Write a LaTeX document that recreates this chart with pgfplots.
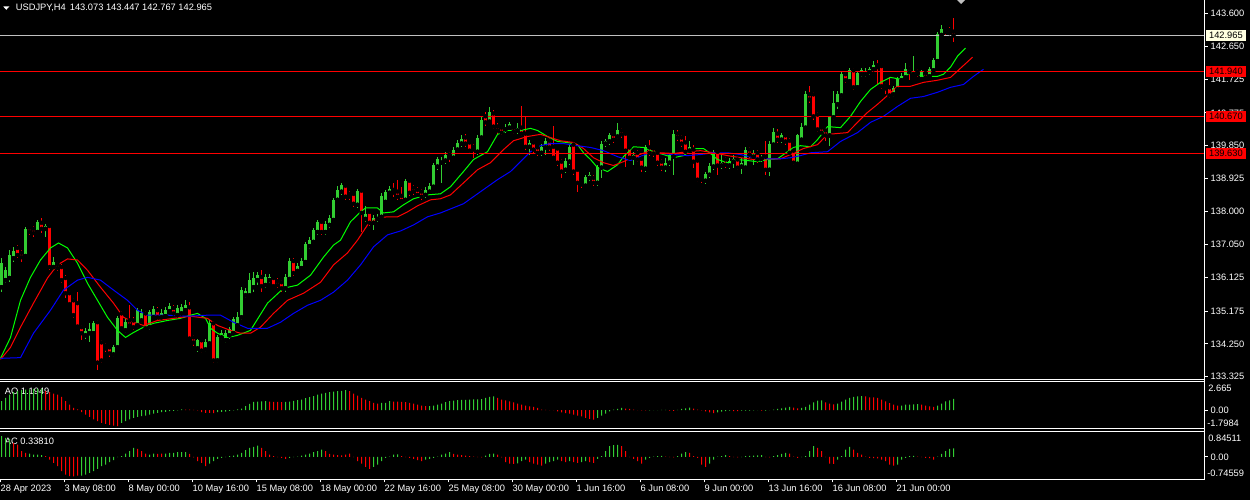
\documentclass[border=0pt]{standalone}
\usepackage{pgfplots}
\pgfplotsset{compat=1.18}
\usepackage{pgfplotstable}
\usepackage{fontspec}
\setmainfont{Liberation Sans}
\definecolor{cgreen}{RGB}{50,205,50}
\definecolor{cred}{RGB}{255,0,0}
\definecolor{clime}{RGB}{0,255,0}
\definecolor{cblue}{RGB}{0,0,255}
\definecolor{cbid}{RGB}{192,192,192}
\definecolor{ccream}{RGB}{255,255,224}
\newcommand\mt{\fontsize{9.3bp}{11bp}\selectfont}
\tikzset{lab/.style={text=white, font=\mt, inner sep=0pt}}
\pgfplotsset{
  isup/.style={restrict expr to domain={\thisrow{#1}}{0.5:1.5}},
  isdown/.style={restrict expr to domain={\thisrow{#1}}{-0.5:0.5}},
  mtaxis/.style={scale only axis, width=1204.5bp, xmin=-0.375, xmax=300.75,
    axis line style={draw=none}, clip=false, tick align=outside, major tick length=3bp,
    ytick pos=right, yticklabel pos=right, tick style={white, line width=1bp},
    yticklabel style={text=white, font=\mt, anchor=west, inner sep=0pt, xshift=3bp}},
  hist/.style={ybar, bar width=1bp, draw=none, fill=#1, bar shift=0pt},
}
\pgfplotstableread{
i o h l c u
0 135.85 136.67 135.71 136.53 1
1 136.05 136.42 135.96 136.33 1
2 136.11 136.90 135.99 136.76 1
3 136.67 136.99 136.56 136.87 1
4 136.96 137.04 136.67 136.76 0
5 136.82 136.90 136.56 136.70 0
6 136.73 137.55 136.67 137.50 1
7 137.53 137.58 137.33 137.41 0
8 137.50 137.58 137.27 137.38 0
9 137.41 137.75 137.36 137.70 1
10 137.67 137.81 137.38 137.50 0
11 137.50 137.64 137.27 137.58 1
12 137.58 137.61 136.33 136.42 0
13 136.42 136.70 136.33 136.56 1
14 136.50 136.56 136.31 136.39 0
15 136.42 136.50 135.96 136.05 0
16 136.11 136.19 135.54 135.68 0
17 135.68 135.74 135.31 135.37 0
18 135.48 135.54 134.97 135.06 0
19 135.40 135.71 134.69 134.74 0
20 134.72 134.77 134.35 134.55 0
21 134.49 134.69 134.40 134.60 1
22 134.55 134.83 134.29 134.66 1
23 134.55 134.89 134.49 134.83 1
24 134.86 134.91 133.50 133.72 0
25 134.29 134.35 133.72 133.78 0
26 134.20 134.26 134.03 134.12 0
27 134.15 134.20 133.89 133.98 0
28 133.95 134.23 133.89 134.15 1
29 134.15 135.03 134.09 134.97 1
30 135.11 135.17 134.63 134.69 0
31 134.63 134.97 134.55 134.86 1
32 134.91 135.34 134.72 134.77 0
33 134.91 135.00 134.63 134.72 0
34 134.77 135.26 134.69 135.20 1
35 134.91 135.23 134.83 135.11 1
36 135.11 135.17 134.63 134.69 0
37 134.72 135.20 134.63 135.14 1
38 135.00 135.31 134.94 135.23 1
39 135.20 135.28 134.91 135.00 0
40 135.00 135.23 134.91 135.11 1
41 135.03 135.28 134.97 135.20 1
42 135.17 135.40 135.11 135.31 1
43 135.26 135.34 135.03 135.11 0
44 135.06 135.34 135.00 135.26 1
45 135.11 135.37 135.06 135.28 1
46 135.20 135.48 135.14 135.34 1
47 135.28 135.43 134.35 134.40 0
48 134.43 134.49 134.20 134.29 0
49 134.12 134.40 134.03 134.35 1
50 134.35 134.40 133.98 134.06 0
51 134.09 134.40 134.01 134.29 1
52 134.26 134.91 134.20 134.83 1
53 134.83 134.89 133.72 133.78 0
54 133.78 134.49 133.72 134.43 1
55 134.43 134.63 134.35 134.57 1
56 134.35 134.63 134.26 134.57 1
57 134.49 134.72 134.40 134.66 1
58 134.55 135.00 134.49 134.94 1
59 134.77 135.14 134.72 135.00 1
60 135.00 135.85 134.91 135.77 1
61 135.62 135.82 135.54 135.74 1
62 135.62 136.25 135.57 136.05 1
63 135.85 136.28 135.71 136.11 1
64 136.05 136.28 135.91 136.19 1
65 136.14 136.33 135.71 135.88 0
66 135.91 136.22 135.82 136.14 1
67 136.05 136.22 135.96 136.14 1
68 136.11 136.16 135.82 135.88 0
69 136.02 136.11 135.82 135.91 0
70 135.99 136.05 135.71 135.82 0
71 135.82 136.22 135.71 136.14 1
72 136.08 136.67 136.02 136.59 1
73 136.59 136.67 136.16 136.25 0
74 136.31 136.53 136.25 136.45 1
75 136.39 136.67 136.33 136.59 1
76 136.56 137.13 136.50 137.07 1
77 137.01 137.27 136.93 137.18 1
78 137.13 137.53 137.07 137.47 1
79 137.41 137.75 137.33 137.70 1
80 137.70 137.75 137.33 137.41 0
81 137.41 137.72 137.33 137.64 1
82 137.61 137.89 137.53 137.81 1
83 137.75 138.38 137.70 138.32 1
84 138.32 138.72 138.26 138.60 1
85 138.55 138.80 138.46 138.75 1
86 138.72 138.77 138.32 138.41 0
87 138.49 138.58 138.32 138.41 0
88 138.49 138.55 138.12 138.21 0
89 138.18 138.63 138.09 138.58 1
90 138.58 138.63 137.41 137.95 0
91 137.78 138.15 137.70 137.92 1
92 137.98 138.04 137.58 137.67 0
93 137.67 137.89 137.47 137.81 1
94 137.78 137.92 137.70 137.84 1
95 137.84 138.52 137.78 138.43 1
96 138.26 138.60 138.21 138.55 1
97 138.52 138.72 138.46 138.63 1
98 138.60 138.80 138.41 138.52 0
99 138.55 138.89 138.32 138.41 0
100 138.43 138.69 138.24 138.29 0
101 138.32 138.92 138.26 138.86 1
102 138.86 138.92 138.43 138.52 0
103 138.66 138.75 138.46 138.55 0
104 138.60 138.69 138.38 138.46 0
105 138.55 138.63 138.32 138.41 0
106 138.46 138.69 138.38 138.60 1
107 138.55 138.80 138.49 138.72 1
108 138.69 139.37 138.63 139.31 1
109 139.26 139.54 139.17 139.46 1
110 139.37 139.54 138.80 139.43 1
111 139.43 139.68 139.34 139.60 1
112 139.60 139.68 139.40 139.51 0
113 139.51 139.82 139.46 139.74 1
114 139.74 140.02 139.68 139.94 1
115 139.91 140.14 139.82 140.05 1
116 140.08 140.17 139.82 139.91 0
117 139.94 139.99 139.65 139.71 0
118 139.82 139.91 139.51 139.74 0
119 139.68 140.14 139.60 140.08 1
120 140.08 140.65 140.02 140.59 1
121 140.68 140.79 140.42 140.51 0
122 140.53 140.93 140.45 140.79 1
123 140.76 140.85 140.31 140.39 0
124 140.39 140.48 140.19 140.28 0
125 140.36 140.42 140.14 140.22 0
126 140.31 140.45 140.22 140.36 1
127 140.36 140.53 140.28 140.45 1
128 140.36 140.42 140.17 140.25 0
129 140.28 140.48 140.19 140.36 1
130 140.36 140.96 140.11 140.19 0
131 140.19 140.68 139.74 139.82 0
132 139.82 140.02 139.60 139.94 1
133 139.94 139.99 139.65 139.74 0
134 139.80 139.85 139.57 139.65 0
135 139.65 139.91 139.57 139.82 1
136 139.80 140.08 139.60 139.99 1
137 139.99 140.08 139.71 139.80 0
138 139.82 140.42 139.46 139.51 0
139 139.77 139.82 139.29 139.37 0
140 139.40 139.46 138.95 139.12 0
141 139.17 139.49 139.09 139.43 1
142 139.40 139.88 139.31 139.82 1
143 139.88 139.94 139.03 139.12 0
144 139.17 139.23 138.55 138.80 0
145 138.83 138.89 138.66 138.75 0
146 138.72 139.03 138.66 138.97 1
147 138.94 139.12 138.86 139.03 1
148 138.94 139.03 138.72 138.80 0
149 138.80 139.31 138.72 139.26 1
150 139.23 139.97 138.94 139.91 1
151 139.91 140.05 139.82 139.97 1
152 139.97 140.22 139.88 140.14 1
153 140.17 140.22 139.94 140.02 0
154 140.11 140.48 140.05 140.28 1
155 140.28 140.36 140.08 140.17 0
156 140.19 140.25 139.26 139.71 0
157 139.80 139.85 139.46 139.51 0
158 139.51 139.68 139.31 139.60 1
159 139.65 139.74 139.40 139.46 0
160 139.48 139.54 139.12 139.23 0
161 139.20 139.88 139.12 139.80 1
162 139.80 140.02 139.57 139.65 0
163 139.77 139.82 139.54 139.63 0
164 139.65 139.71 139.29 139.37 0
165 139.40 139.46 139.14 139.23 0
166 139.23 139.51 139.12 139.37 1
167 139.37 139.65 139.29 139.60 1
168 139.54 140.28 139.03 140.19 1
169 140.19 140.28 139.99 140.08 0
170 140.08 140.14 139.82 139.91 0
171 139.94 140.11 139.63 139.68 0
172 139.71 139.97 139.63 139.80 1
173 139.74 139.88 139.23 139.40 0
174 139.43 139.48 138.83 138.89 0
175 138.97 139.03 138.80 138.89 0
176 138.86 139.12 138.77 139.06 1
177 139.03 139.37 138.94 139.29 1
178 139.26 139.74 139.17 139.68 1
179 139.68 139.74 139.03 139.29 0
180 139.29 139.60 139.20 139.37 1
181 139.46 139.54 139.23 139.31 0
182 139.29 139.51 139.20 139.43 1
183 139.40 139.60 139.23 139.48 1
184 139.46 139.54 139.17 139.23 0
185 139.26 139.51 139.06 139.37 1
186 139.23 139.80 139.17 139.74 1
187 139.74 139.82 139.51 139.60 0
188 139.54 139.74 139.31 139.65 1
189 139.65 139.74 139.37 139.46 0
190 139.48 139.60 139.40 139.51 1
191 139.54 139.97 139.03 139.17 0
192 139.17 139.97 139.00 139.91 1
193 139.88 140.34 139.82 140.25 1
194 140.19 140.31 139.94 140.02 0
195 140.02 140.22 139.94 140.14 1
196 140.14 140.19 139.88 139.97 0
197 139.99 140.08 139.60 139.65 0
198 139.71 139.77 139.31 139.37 0
199 139.34 140.19 139.29 140.14 1
200 140.02 140.48 139.97 140.39 1
201 140.36 141.39 140.31 141.30 1
202 141.30 141.53 141.07 141.16 0
203 141.30 141.36 140.59 140.68 0
204 140.73 140.79 140.25 140.31 0
205 140.36 140.42 140.14 140.22 0
206 140.28 140.34 139.99 140.14 0
207 140.14 140.70 139.85 140.65 1
208 140.65 141.41 140.59 141.05 1
209 141.02 141.39 140.90 141.30 1
210 141.27 141.93 141.21 141.87 1
211 141.87 141.95 141.61 141.70 0
212 141.67 142.04 141.61 141.98 1
213 141.98 142.04 141.41 141.50 0
214 141.50 141.95 141.44 141.90 1
215 141.87 142.04 141.78 141.98 1
216 141.87 142.04 141.78 141.95 1
217 141.93 142.07 141.84 142.01 1
218 142.01 142.24 141.95 142.12 1
219 142.12 142.27 141.58 142.07 0
220 142.10 142.15 141.44 141.53 0
221 141.56 141.61 141.30 141.47 0
222 141.50 141.78 141.21 141.27 0
223 141.30 141.53 141.24 141.47 1
224 141.44 141.78 141.39 141.73 1
225 141.70 141.90 141.64 141.81 1
226 141.78 142.18 141.73 142.01 1
227 142.04 142.10 141.70 141.93 0
228 141.87 142.38 141.81 141.95 1
229 141.95 142.01 141.78 141.87 0
230 141.73 141.98 141.67 141.93 1
231 141.90 141.95 141.73 141.78 0
232 141.81 142.07 141.75 142.01 1
233 141.98 142.32 141.93 142.27 1
234 142.24 143.06 142.18 143.00 1
235 142.98 143.26 142.92 143.15 1
236 143.15 143.20 142.95 143.06 0
237 143.12 143.20 142.95 143.03 0
238 143.073 143.447 142.767 142.965 0
}\candles
\pgfplotstableread{
i v g
0 1.05 1
1 1.44 1
2 1.84 1
3 2.12 1
4 2.24 1
5 2.36 1
6 2.44 1
7 2.46 1
8 2.52 1
9 2.53 1
10 2.54 1
11 2.24 0
12 2.12 0
13 1.96 0
14 1.84 0
15 1.56 0
16 1.05 0
17 0.65 0
18 0.25 0
19 0.06 0
20 -0.26 0
21 -0.54 0
22 -0.82 0
23 -1.13 0
24 -1.33 0
25 -1.52 0
26 -1.65 0
27 -1.77 0
28 -1.85 0
29 -1.93 0
30 -1.52 1
31 -1.33 1
32 -1.13 1
33 -0.94 1
34 -0.82 1
35 -0.74 1
36 -0.66 1
37 -0.54 1
38 -0.42 1
39 -0.34 1
40 -0.26 1
41 -0.22 1
42 -0.14 1
43 -0.10 1
44 -0.03 1
45 0.06 1
46 0.05 0
47 0.04 0
48 0.01 0
49 -0.03 0
50 -0.26 0
51 -0.34 0
52 -0.35 0
53 -0.36 0
54 -0.26 1
55 -0.22 1
56 -0.18 1
57 -0.10 1
58 -0.03 1
59 0.06 1
60 0.17 1
61 0.45 1
62 0.73 1
63 0.97 1
64 1.01 1
65 1.02 1
66 1.05 1
67 1.01 0
68 0.97 0
69 0.96 0
70 0.93 0
71 0.97 1
72 1.01 1
73 1.09 1
74 1.17 1
75 1.25 1
76 1.40 1
77 1.52 1
78 1.64 1
79 1.84 1
80 1.96 1
81 2.04 1
82 2.12 1
83 2.20 1
84 2.24 1
85 2.28 1
86 2.36 1
87 2.24 0
88 1.96 0
89 1.72 0
90 1.44 0
91 1.25 0
92 1.05 0
93 0.85 0
94 0.77 0
95 0.85 1
96 0.86 1
97 1.05 1
98 1.01 0
99 1.00 0
100 0.97 0
101 0.93 0
102 0.85 0
103 0.77 0
104 0.65 0
105 0.53 0
106 0.45 0
107 0.46 1
108 0.53 1
109 0.65 1
110 0.77 1
111 0.93 1
112 1.05 1
113 1.13 1
114 1.17 1
115 1.21 1
116 1.22 1
117 1.25 1
118 1.26 1
119 1.27 1
120 1.30 1
121 1.43 1
122 1.55 1
123 1.63 1
124 1.43 0
125 1.23 0
126 1.15 0
127 1.03 0
128 0.91 0
129 0.75 0
130 0.63 0
131 0.52 0
132 0.44 0
133 0.36 0
134 0.24 0
135 0.04 0
136 0.01 0
137 -0.01 0
138 -0.02 0
139 -0.16 0
140 -0.28 0
141 -0.36 0
142 -0.44 0
143 -0.56 0
144 -0.67 0
145 -0.75 0
146 -0.95 0
147 -1.07 0
148 -1.15 0
149 -0.95 1
150 -0.67 1
151 -0.44 1
152 -0.16 1
153 0.04 1
154 0.12 1
155 0.24 1
156 0.16 0
157 0.12 0
158 0.04 0
159 -0.01 0
160 -0.04 0
161 -0.05 0
162 -0.04 1
163 -0.02 1
164 -0.01 1
165 0.01 1
166 0.02 1
167 -0.08 0
168 -0.09 0
169 0.01 1
170 0.12 1
171 0.20 1
172 0.28 1
173 0.16 0
174 0.04 0
175 -0.04 0
176 -0.16 0
177 -0.28 0
178 -0.36 0
179 -0.28 1
180 -0.20 1
181 -0.12 1
182 -0.08 1
183 -0.12 0
184 -0.13 0
185 -0.08 1
186 -0.07 1
187 -0.06 1
188 -0.04 1
189 -0.01 1
190 -0.07 0
191 -0.06 1
192 -0.01 1
193 0.04 1
194 0.12 1
195 0.20 1
196 0.28 1
197 0.36 1
198 0.28 0
199 0.20 0
200 0.24 1
201 0.36 1
202 0.63 1
203 0.91 1
204 1.11 1
205 1.15 1
206 0.91 0
207 0.75 0
208 0.67 0
209 0.75 1
210 0.99 1
211 1.23 1
212 1.43 1
213 1.55 1
214 1.63 1
215 1.64 1
216 1.63 0
217 1.51 0
218 1.50 0
219 1.43 0
220 1.23 0
221 1.03 0
222 0.83 0
223 0.63 0
224 0.52 0
225 0.53 1
226 0.63 1
227 0.64 1
228 0.67 1
229 0.71 1
230 0.63 0
231 0.52 0
232 0.44 0
233 0.36 0
234 0.52 1
235 0.75 1
236 1.03 1
237 1.15 1
238 1.31 1
}\aotab
\pgfplotstableread{
i v g
0 0.83 1
1 0.76 1
2 0.72 1
3 0.56 0
4 0.49 0
5 0.23 0
6 0.16 0
7 0.13 1
8 0.09 1
9 0.09 1
10 0.07 1
11 0.03 0
12 -0.11 0
13 -0.24 0
14 -0.37 0
15 -0.57 0
16 -0.71 0
17 -0.77 0
18 -0.78 0
19 -0.75 0
20 -0.75 1
21 -0.71 1
22 -0.64 1
23 -0.57 1
24 -0.48 1
25 -0.37 1
26 -0.31 1
27 -0.21 1
28 -0.13 1
29 -0.01 1
30 0.03 1
31 0.13 1
32 0.23 1
33 0.36 1
34 0.32 0
35 0.23 0
36 0.13 0
37 0.09 1
38 0.13 1
39 0.12 0
40 0.13 0
41 0.13 1
42 0.16 1
43 0.16 1
44 0.19 1
45 0.19 1
46 0.19 1
47 0.12 0
48 -0.02 0
49 -0.17 0
50 -0.24 0
51 -0.37 0
52 -0.27 1
53 -0.17 1
54 -0.08 1
55 -0.04 1
56 -0.01 1
57 0.03 1
58 0.05 1
59 0.09 1
60 0.16 1
61 0.27 1
62 0.36 1
63 0.40 1
64 0.45 1
65 0.36 0
66 0.23 0
67 0.09 0
68 0.03 0
69 -0.01 0
70 -0.04 0
71 -0.08 0
72 -0.04 1
73 -0.01 1
74 0.01 1
75 0.05 1
76 0.09 1
77 0.13 1
78 0.19 1
79 0.23 1
80 0.29 1
81 0.23 0
82 0.12 0
83 0.09 0
84 0.07 0
85 0.06 0
86 0.09 0
87 0.13 0
88 -0.01 0
89 -0.17 0
90 -0.27 0
91 -0.40 0
92 -0.48 0
93 -0.40 1
94 -0.31 1
95 -0.17 1
96 -0.04 1
97 0.01 1
98 0.09 1
99 0.10 1
100 0.03 0
101 -0.01 0
102 -0.04 0
103 -0.08 0
104 -0.13 0
105 -0.17 0
106 -0.11 1
107 -0.08 1
108 -0.04 1
109 0.01 1
110 0.09 1
111 0.13 1
112 0.19 1
113 0.12 0
114 0.09 0
115 0.07 0
116 0.05 0
117 0.03 0
118 0.01 0
119 -0.01 0
120 -0.02 0
121 0.05 1
122 0.12 1
123 0.13 1
124 0.09 0
125 -0.02 0
126 -0.21 0
127 -0.27 0
128 -0.28 0
129 -0.26 1
130 -0.17 1
131 -0.11 1
132 -0.21 0
133 -0.27 0
134 -0.31 0
135 -0.35 0
136 -0.27 1
137 -0.21 1
138 -0.17 1
139 -0.11 1
140 -0.17 0
141 -0.21 0
142 -0.17 1
143 -0.21 0
144 -0.24 0
145 -0.21 1
146 -0.17 1
147 -0.21 0
148 -0.24 0
149 -0.08 1
150 0.03 1
151 0.23 1
152 0.43 1
153 0.47 1
154 0.48 1
155 0.43 0
156 0.23 0
157 -0.01 0
158 -0.08 0
159 -0.17 0
160 -0.27 0
161 -0.11 1
162 -0.04 1
163 0.01 1
164 0.03 1
165 0.04 1
166 0.01 0
167 -0.01 0
168 -0.02 0
169 0.03 1
170 0.13 1
171 0.19 1
172 0.16 0
173 0.03 0
174 -0.04 0
175 -0.31 0
176 -0.40 0
177 -0.27 1
178 -0.11 1
179 0.01 1
180 0.03 1
181 0.07 1
182 0.03 0
183 -0.01 0
184 -0.02 0
185 -0.01 1
186 0.03 1
187 0.04 1
188 0.05 1
189 0.06 1
190 0.07 1
191 -0.01 0
192 -0.02 0
193 0.03 1
194 0.07 1
195 0.12 1
196 0.16 1
197 0.13 0
198 0.01 0
199 -0.04 0
200 -0.01 1
201 0.03 1
202 0.23 1
203 0.43 1
204 0.36 0
205 0.23 0
206 -0.01 0
207 -0.27 0
208 -0.28 0
209 -0.11 1
210 0.03 1
211 0.29 1
212 0.40 1
213 0.29 0
214 0.16 0
215 0.09 0
216 0.01 0
217 -0.04 0
218 -0.05 0
219 -0.06 0
220 -0.11 0
221 -0.17 0
222 -0.31 0
223 -0.35 0
224 -0.31 1
225 -0.11 1
226 -0.04 1
227 0.03 1
228 0.04 1
229 0.01 0
230 -0.01 0
231 -0.04 0
232 -0.05 0
233 -0.11 0
234 0.01 1
235 0.12 1
236 0.23 1
237 0.32 1
238 0.34 1
}\actab
\begin{document}
\begin{tikzpicture}
\useasboundingbox (0,0) rectangle (1250bp,500bp);
\fill[black] (0,0) rectangle (1250bp,500bp);
\node[lab, anchor=base west] at (15.7bp,489bp) {USDJPY,H4\hspace{4bp}143.073 143.447 142.767 142.965};
\fill[white] (3.3bp,493.5bp) -- (9.3bp,493.5bp) -- (6.3bp,490.2bp) -- cycle;
\fill[cbid] (957bp,500bp) -- (965bp,500bp) -- (961bp,496bp) -- cycle;
\node[lab, anchor=base west] at (4.7bp,105.7bp) {AO 1.1949};
\node[lab, anchor=base west] at (4.7bp,55.7bp) {AC 0.33810};
% ---------------- main price panel
\begin{axis}[mtaxis, at={(0bp,500bp)}, anchor=north west, height=379.5bp,
  ymin=133.242, ymax=143.968, xtick=\empty,
  ytick={143.6,142.65,141.725,140.775,139.85,138.925,138,137.05,136.125,135.175,134.25,133.325},
  yticklabels={143.600,142.650,141.725,140.775,139.850,138.925,138.000,137.050,136.125,135.175,134.250,133.325}]
% wicks
\addplot[only marks, mark=none, isup=u, error bars/.cd, y dir=both, y explicit, error mark=none,
  error bar style={draw=cgreen, line width=1bp}]
  table[x=i, y=o, y error plus expr={\thisrow{h}-\thisrow{o}}, y error minus expr={\thisrow{o}-\thisrow{l}}] {\candles};
\addplot[only marks, mark=none, isdown=u, error bars/.cd, y dir=both, y explicit, error mark=none,
  error bar style={draw=cred, line width=1bp}]
  table[x=i, y=o, y error plus expr={\thisrow{h}-\thisrow{o}}, y error minus expr={\thisrow{o}-\thisrow{l}}] {\candles};
% bodies
\addplot[only marks, mark=none, isup=u, error bars/.cd, y dir=plus, y explicit, error mark=none,
  error bar style={draw=cgreen, line width=3bp}]
  table[x=i, y=o, y error plus expr={\thisrow{c}-\thisrow{o}}] {\candles};
\addplot[only marks, mark=none, isdown=u, error bars/.cd, y dir=plus, y explicit, error mark=none,
  error bar style={draw=cred, line width=3bp}]
  table[x=i, y=c, y error plus expr={\thisrow{o}-\thisrow{c}}] {\candles};
% Alligator lines
\addplot[clime, line width=1bp] coordinates {(-0.25,133.84) (2.25,134.43) (4.75,135.48) (7.25,136.13) (9.75,136.62) (12.25,136.96) (14.25,137.10) (16.5,136.96) (19,136.53) (21.5,135.96) (24,135.48) (26.5,135.00) (29,134.63) (31,134.43) (33,134.57) (35.5,134.72) (38,134.83) (41.5,134.91) (44.75,134.97) (47.25,135.06) (49,135.11) (51,134.97) (52.25,134.69) (54,134.55) (56.5,134.43) (59,134.49) (62.25,134.63) (66.5,135.40) (70.5,135.82) (74,135.91) (77.25,136.19) (80.5,136.70) (83,137.04) (84.75,137.18) (87.25,137.70) (89.75,137.98) (91,138.09) (94,138.09) (95.5,137.95) (98,137.98) (100.5,138.18) (103,138.35) (106.5,138.46) (109.75,138.49) (112.25,138.69) (115.5,139.12) (118,139.46) (121.5,139.68) (124,140.17) (126.5,140.28) (129.75,140.28) (132.25,140.34) (134,140.28) (136.5,140.11) (139,139.97) (141.5,139.94) (144,139.88) (145.5,139.65) (147.25,139.46) (149,139.23) (151.5,139.12) (154,139.31) (155.5,139.54) (158,139.82) (160.5,139.80) (163,139.68) (165.5,139.60) (168,139.51) (170.5,139.57) (173,139.77) (175.5,139.77) (177.25,139.63) (179,139.46) (181.5,139.37) (184,139.46) (186.5,139.43) (189,139.40) (191.5,139.46) (194,139.48) (195.5,139.60) (198,139.80) (199.75,139.85) (202.25,139.82) (204,140.02) (206.5,140.39) (209.75,140.36) (212.25,140.68) (214.75,141.10) (217.25,141.44) (219.75,141.64) (222.25,141.78) (224.75,141.73) (227.25,141.92) (230.5,141.81) (234,141.81) (235.5,141.87) (237.25,142.07) (239,142.38) (241,142.61)};
\addplot[cred, line width=1bp] coordinates {(-0.25,133.81) (2.25,134.15) (4.75,134.72) (8,135.40) (11.5,136.11) (14,136.48) (16.5,136.65) (19,136.62) (21.5,136.33) (24.75,135.85) (28,135.40) (30.5,135.00) (33,134.86) (35.5,134.77) (39,134.91) (43,134.97) (47.25,135.03) (51.5,134.97) (54,134.77) (57.25,134.63) (59.75,134.55) (62.25,134.55) (64.75,134.72) (68,135.11) (71.5,135.48) (75.5,135.68) (79.75,135.99) (83,136.48) (86.5,136.82) (89,137.18) (91.5,137.61) (94,137.81) (96.5,137.84) (99,137.84) (101.5,137.98) (104,138.15) (107.25,138.32) (109.75,138.35) (112.25,138.46) (115.5,138.80) (119,139.17) (122.25,139.37) (125.5,139.74) (128,139.99) (131.5,140.11) (134.75,140.17) (137.25,140.08) (139.75,139.99) (143,139.94) (145.5,139.77) (148,139.51) (150.5,139.37) (153,139.29) (155.5,139.40) (158,139.54) (161.5,139.68) (164.75,139.65) (168,139.63) (171.5,139.68) (174.75,139.71) (178,139.65) (181.5,139.57) (184.75,139.51) (188,139.46) (191.5,139.48) (194.75,139.48) (197.25,139.60) (200.5,139.77) (204,139.88) (206.5,140.17) (211.5,140.22) (214,140.51) (216.5,140.79) (219,141.02) (221.5,141.27) (224,141.53) (227.25,141.53) (230.5,141.64) (234,141.70) (237.25,141.78) (239.75,142.04) (242.75,142.35)};
\addplot[cblue, line width=1bp] coordinates {(-0.25,133.84) (4.75,133.86) (8,134.55) (12.25,135.20) (15.5,135.77) (19,136.05) (21.5,136.13) (24.75,136.05) (28,135.77) (31.5,135.48) (34,135.20) (36.5,135.06) (41.5,135.06) (46.5,135.03) (51.5,135.06) (54.75,135.06) (58,134.86) (61.5,134.69) (66.5,134.69) (69.75,134.86) (73,135.11) (76.5,135.34) (79.75,135.48) (83,135.71) (86.5,136.05) (89.75,136.48) (93,136.99) (96.5,137.33) (99.75,137.44) (103,137.61) (106.5,137.84) (109.75,137.95) (115.5,138.21) (119.75,138.55) (124,138.89) (127.25,139.12) (129.75,139.40) (132.25,139.68) (134.75,139.85) (137.25,139.91) (140.5,139.91) (144,139.85) (147.25,139.80) (150.5,139.71) (154,139.54) (157.25,139.43) (161.5,139.63) (164.75,139.63) (168,139.60) (171.5,139.57) (174.75,139.60) (178,139.65) (181.5,139.65) (184.75,139.60) (188,139.51) (191.5,139.48) (194.75,139.48) (197.25,139.51) (199.75,139.57) (202.25,139.65) (206.5,139.68) (209.75,139.97) (214,140.22) (217.25,140.51) (220.5,140.68) (224,140.96) (227.25,141.19) (230.5,141.24) (234,141.36) (237.25,141.50) (240.5,141.58) (243,141.81) (245.5,142.01)};
% horizontal levels
\addplot[cbid, line width=1bp] coordinates {(-0.375,142.965) (300.75,142.965)};
\addplot[cred, line width=1.2bp] coordinates {(-0.375,141.94) (300.75,141.94)};
\addplot[cred, line width=1.2bp] coordinates {(-0.375,140.67) (300.75,140.67)};
\addplot[cred, line width=1.2bp] coordinates {(-0.375,139.63) (300.75,139.63)};
\node[fill=ccream, text=black, font=\mt, inner sep=0pt, minimum width=40bp, minimum height=11bp, anchor=west, xshift=1.2bp] at (axis cs:300.75,142.965) {142.965};
\node[fill=cred, text=black, font=\mt, inner sep=0pt, minimum width=40bp, minimum height=11bp, anchor=west, xshift=1.2bp] at (axis cs:300.75,141.94) {141.940};
\node[fill=cred, text=black, font=\mt, inner sep=0pt, minimum width=40bp, minimum height=11bp, anchor=west, xshift=1.2bp] at (axis cs:300.75,140.67) {140.670};
\node[fill=cred, text=black, font=\mt, inner sep=0pt, minimum width=40bp, minimum height=11bp, anchor=west, xshift=1.2bp] at (axis cs:300.75,139.63) {139.630};
\end{axis}
% ---------------- AO panel
\begin{axis}[mtaxis, at={(0bp,118.5bp)}, anchor=north west, height=47bp,
  ymin=-2.202, ymax=3.393, xtick=\empty, ytick={0}, yticklabels={0.00}]
\addplot[hist=cgreen, isup=g] table[x=i, y=v] {\aotab};
\addplot[hist=cred, isdown=g] table[x=i, y=v] {\aotab};
\node[lab, anchor=west, xshift=3.6bp] at (axis cs:300.75,2.56) {2.665};
\node[lab, anchor=west, xshift=2.6bp] at (axis cs:300.75,-1.536) {-1.7984};
\end{axis}
% ---------------- AC panel
\begin{axis}[mtaxis, at={(0bp,68.5bp)}, anchor=north west, height=48bp,
  ymin=-0.9, ymax=1.02, ytick={0}, yticklabels={0.00},
  xtick={-0.25,15.75,...,223.75}, xtick pos=bottom,
  xticklabels={28 Apr 2023,3 May 08:00,8 May 00:00,10 May 16:00,15 May 08:00,18 May 00:00,22 May 16:00,25 May 08:00,30 May 00:00,1 Jun 16:00,6 Jun 08:00,9 Jun 00:00,13 Jun 16:00,16 Jun 08:00,21 Jun 00:00},
  xticklabel style={text=white, font=\mt, anchor=north west, inner sep=0pt, yshift=-2bp}]
\addplot[hist=cgreen, isup=g] table[x=i, y=v] {\actab};
\addplot[hist=cred, isdown=g] table[x=i, y=v] {\actab};
\node[lab, anchor=west, xshift=3.6bp] at (axis cs:300.75,0.736) {0.84511};
\node[lab, anchor=west, xshift=2.6bp] at (axis cs:300.75,-0.664) {-0.74559};
\end{axis}
% ---------------- panel frames
\draw[white, line width=1bp] (1204.5bp,20.5bp) -- (1204.5bp,500bp);
\foreach \yy in {120.5,118.5,71.5,68.5,20.5} {\draw[white, line width=1bp] (0bp,\yy bp) -- (1204.5bp,\yy bp);}
\end{tikzpicture}
\end{document}
